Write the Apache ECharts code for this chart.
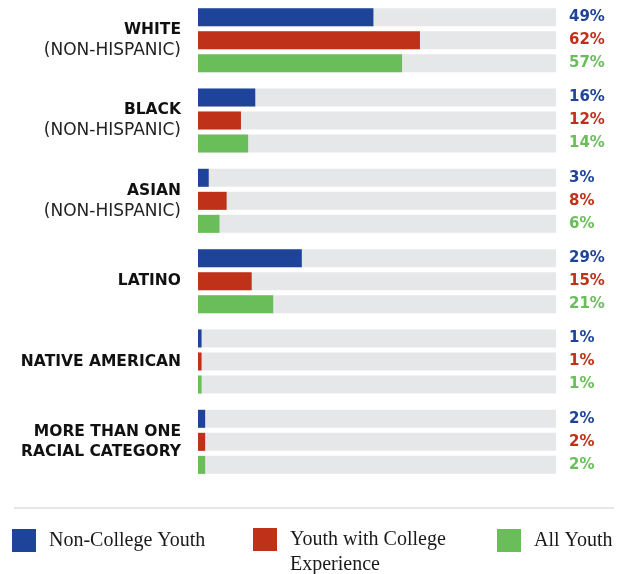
<!DOCTYPE html>
<html>
<head>
<meta charset="utf-8">
<script src="https://cdn.jsdelivr.net/npm/echarts@6.0.0/dist/echarts.min.js"></script>
<style>
  html, body { margin: 0; padding: 0; background: #ffffff; }
  #chart { width: 621px; height: 574px; }
</style>
</head>
<body>
<div id="chart"></div>
<script>
// Racial/ethnic composition of youth groups (percent)
const categories = [
  ['WHITE', '(NON-HISPANIC)'],
  ['BLACK', '(NON-HISPANIC)'],
  ['ASIAN', '(NON-HISPANIC)'],
  ['LATINO'],
  ['NATIVE AMERICAN'],
  ['MORE THAN ONE', 'RACIAL CATEGORY']
];
const seriesNames = ['Non-College Youth', 'Youth with College Experience', 'All Youth'];
const nonCollege = [49, 16, 3, 29, 1, 2];
const withCollege = [62, 12, 8, 15, 1, 2];
const allYouth = [57, 14, 6, 21, 1, 2];
const seriesValues = [nonCollege, withCollege, allYouth];
const colors = ['#1e4499', '#c0311a', '#6abe59'];
const FULL = 100;

const catKeys = categories.map(c => c.join('|'));

const series = [];
seriesValues.forEach((vals, i) => {
  // the coloured share
  series.push({
    name: seriesNames[i],
    type: 'bar',
    stack: 's' + i,
    barWidth: 18,
    barGap: '28%',
    data: vals,
    itemStyle: { color: colors[i] },
    showBackground: true,
    backgroundStyle: { color: '#e6e7e9' },
    silent: true
  });
  // invisible remainder up to 100%, carrying the value label at the row end
  series.push({
    name: seriesNames[i] + ' rest',
    type: 'bar',
    stack: 's' + i,
    barWidth: 18,
    barGap: '28%',
    data: vals.map(v => FULL - v),
    itemStyle: { color: 'rgba(0,0,0,0)' },
    silent: true,
    label: {
      show: true,
      position: 'right',
      distance: 13,
      color: colors[i],
      fontFamily: 'DejaVu Sans',
      fontWeight: 'bold',
      fontSize: 15,
      formatter: p => vals[p.dataIndex] + '%'
    }
  });
});

const legendBase = {
  top: 528,
  padding: 0,
  itemWidth: 24,
  itemHeight: 23,
  icon: 'rect',
  selectedMode: false,
  textStyle: {
    fontFamily: 'Liberation Serif',
    fontSize: 20,
    color: '#1a1a1a',
    lineHeight: 25,
    padding: [0, 0, 0, 8]
  }
};

const option = {
  animation: false,
  backgroundColor: '#ffffff',
  grid: { left: 198, width: 358, top: 0, height: 482 },
  xAxis: {
    type: 'value',
    min: 0,
    max: FULL,
    show: false
  },
  yAxis: {
    type: 'category',
    inverse: true,
    data: catKeys,
    axisLine: { show: false },
    axisTick: { show: false },
    splitLine: { show: false },
    axisLabel: {
      margin: 17,
      align: 'right',
      formatter: v => v.split('|')
        .map(t => (t.charAt(0) === '(' ? '{r|' : '{b|') + t + '}')
        .join('\n'),
      rich: {
        b: { fontFamily: 'DejaVu Sans', fontWeight: 'bold', fontSize: 15.5, color: '#111111', lineHeight: 20.5, align: 'right' },
        r: { fontFamily: 'DejaVu Sans', fontSize: 17, color: '#222222', lineHeight: 20.5, align: 'right' }
      }
    }
  },
  legend: [
    Object.assign({}, legendBase, { left: 12, data: [seriesNames[0]] }),
    Object.assign({}, legendBase, {
      left: 253,
      top: 502,
      data: [seriesNames[1]],
      // leading empty line keeps the first text line level with the swatch
      formatter: () => '\nYouth with College\nExperience'
    }),
    Object.assign({}, legendBase, { left: 497, data: [seriesNames[2]] })
  ],
  graphic: [{
    type: 'line',
    shape: { x1: 14, y1: 508, x2: 614, y2: 508 },
    style: { stroke: '#e6e6e6', lineWidth: 2 },
    silent: true
  }],
  series: series
};

const chart = echarts.init(document.getElementById('chart'), null, { renderer: 'canvas' });
chart.setOption(option);
</script>
</body>
</html>
